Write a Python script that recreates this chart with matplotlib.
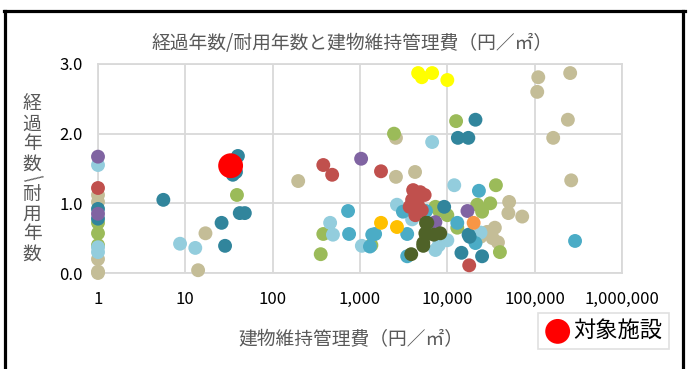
import numpy as np
import matplotlib
matplotlib.use('Agg')
import matplotlib.pyplot as plt
from matplotlib.lines import Line2D

plt.rcParams['font.family'] = ['Noto Sans CJK JP', 'DejaVu Sans']

# data (x = 建物維持管理費, y = 経過年数/耐用年数)
teal_x = [1, 1, 5.6, 40, 38, 35, 42, 48, 26, 28.5, 13200, 17400, 21000, 9200, 18000, 14500, 25000, 17500]
teal_y = [0.92, 0.78, 1.05, 1.68, 1.45, 1.41, 0.86, 0.86, 0.72, 0.39, 1.94, 1.94, 2.20, 0.95, 0.52, 0.29, 0.24, 0.55]

lblue_x = [1, 1, 1, 8.7, 13, 455, 490, 1050, 6700, 12000, 2650, 3950, 10000, 7300, 8000, 24000]
lblue_y = [1.55, 0.37, 0.30, 0.42, 0.36, 0.72, 0.55, 0.39, 1.88, 1.26, 0.98, 0.77, 0.47, 0.33, 0.40, 0.58]

mblue_x = [730, 750, 1300, 1380, 1490, 3470, 3100, 5700, 3470, 13000, 23000, 21000, 6500, 290000]
mblue_y = [0.89, 0.56, 0.38, 0.55, 0.56, 0.56, 0.88, 0.89, 0.24, 0.72, 1.18, 0.43, 0.70, 0.46]

green_x = [1, 1, 1, 39, 380, 355, 1350, 2450, 12600, 36000, 22000, 25000, 31000, 7300, 10000, 13000, 40000, 8000]
green_y = [0.72, 0.57, 0.40, 1.12, 0.56, 0.27, 0.40, 2.00, 2.18, 1.26, 0.98, 0.88, 1.00, 0.95, 0.83, 0.65, 0.30, 0.90]

red_x = [1, 380, 480, 1740, 4060, 4900, 5500, 3950, 3700, 4600, 5100, 4300, 17800]
red_y = [1.22, 1.55, 1.41, 1.46, 1.19, 1.16, 1.12, 1.05, 0.95, 0.98, 0.90, 0.83, 0.11]

purple_x = [1, 1, 1030, 17000, 7300]
purple_y = [1.67, 0.85, 1.64, 0.89, 0.73]

tan_x = [1, 1, 1, 1, 1, 17, 14, 196, 2580, 2580, 4270, 51000, 50000, 72000,
         24000, 28500, 35000, 33000, 38000, 110000, 107000, 255000, 240000, 163000, 262000]
tan_y = [1.12, 1.02, 0.20, 0.02, 0.0, 0.57, 0.04, 1.32, 1.94, 1.38, 1.45, 1.02, 0.86, 0.81,
         0.52, 0.59, 0.65, 0.50, 0.44, 2.81, 2.60, 2.87, 2.20, 1.94, 1.33]

yellow_x = [4630, 5100, 6700, 10000]
yellow_y = [2.87, 2.81, 2.87, 2.77]

orange_x = [20000]
orange_y = [0.72]

gold_x = [1740, 2650]
gold_y = [0.72, 0.66]

olive_x = [3860, 5700, 5700, 5300, 5900, 5600, 8300, 5300, 7000]
olive_y = [0.27, 0.72, 0.55, 0.39, 0.72, 0.57, 0.57, 0.43, 0.55]

target_x = [33]
target_y = [1.54]

series = [
    (tan_x, tan_y, '#C4BD97'),
    (green_x, green_y, '#9BBB59'),
    (lblue_x, lblue_y, '#93CDDD'),
    (mblue_x, mblue_y, '#4BACC6'),
    (teal_x, teal_y, '#31859C'),
    (red_x, red_y, '#C0504D'),
    (purple_x, purple_y, '#8064A2'),
    (yellow_x, yellow_y, '#FFFF00'),
    (orange_x, orange_y, '#F79646'),
    (gold_x, gold_y, '#FFC000'),
    (olive_x, olive_y, '#4F6228'),
]

fig = plt.figure(figsize=(6.91, 3.69), dpi=100)
ax = fig.add_axes([98 / 691, 96 / 369, 524 / 691, 209 / 369])

for xs, ys, c in series:
    ax.scatter(xs, ys, s=100, color=c, edgecolors='none', zorder=3, clip_on=False)

tgt = ax.scatter(target_x, target_y, s=320, color='#FF0000', edgecolors='none', zorder=4,
                 label='対象施設')

ax.set_xscale('log')
ax.set_xlim(1, 1e6)
ax.set_ylim(0, 3)
ax.set_xticks([1, 10, 100, 1000, 10000, 100000, 1000000])
ax.set_xticklabels(['1', '10', '100', '1,000', '10,000', '100,000', '1,000,000'])
ax.xaxis.set_minor_locator(matplotlib.ticker.NullLocator())
ax.set_yticks([0, 1, 2, 3])
ax.set_yticklabels(['0.0', '1.0', '2.0', '3.0'])
ax.tick_params(length=0, labelsize=12, colors='black', pad=11)
ax.tick_params(axis='x', pad=13)

ax.grid(True, color='#D9D9D9', linewidth=1.3, zorder=0)
for sp in ax.spines.values():
    sp.set_color('#D9D9D9')
    sp.set_linewidth(1.3)

fig.text(352 / 691, 1 - 44 / 369, '経過年数/耐用年数と建物維持管理費（円／㎡）',
         ha='center', va='center', fontsize=13.5, color='#595959')
fig.text(351 / 691, 1 - 340 / 369, '建物維持管理費（円／㎡）',
         ha='center', va='center', fontsize=13.5, color='#595959')

# vertical y label, one character at a time
ylab = ['経', '過', '年', '数', '/', '耐', '用', '年', '数']
ypos = [104, 124, 144, 164, 179, 194, 214, 234, 254]
for ch, yp in zip(ylab, ypos):
    rot = -60 if ch == '/' else 0
    fig.text(32 / 691, 1 - yp / 369, ch, ha='center', va='center', fontsize=13.5,
             color='#595959', rotation=rot)

leg = fig.legend(handles=[tgt], loc='lower right', bbox_to_anchor=(680 / 691, 9 / 369),
                 fontsize=16, frameon=True, fancybox=False, edgecolor='#D9D9D9',
                 handletextpad=0.1, borderpad=0.3, handlelength=1.2, scatterpoints=1)
leg.get_frame().set_linewidth(1.2)

# black frame from the screenshot
lw = 2.3
fig.add_artist(Line2D([5.5 / 691, 5.5 / 691], [0, 1 - 10.5 / 369], color='black', lw=lw))
fig.add_artist(Line2D([683 / 691, 683 / 691], [0, 1 - 10.5 / 369], color='black', lw=lw))
fig.add_artist(Line2D([4 / 691, 684.5 / 691], [1 - 10.5 / 369, 1 - 10.5 / 369], color='black', lw=lw))

fig.savefig('out.png', dpi=100)
